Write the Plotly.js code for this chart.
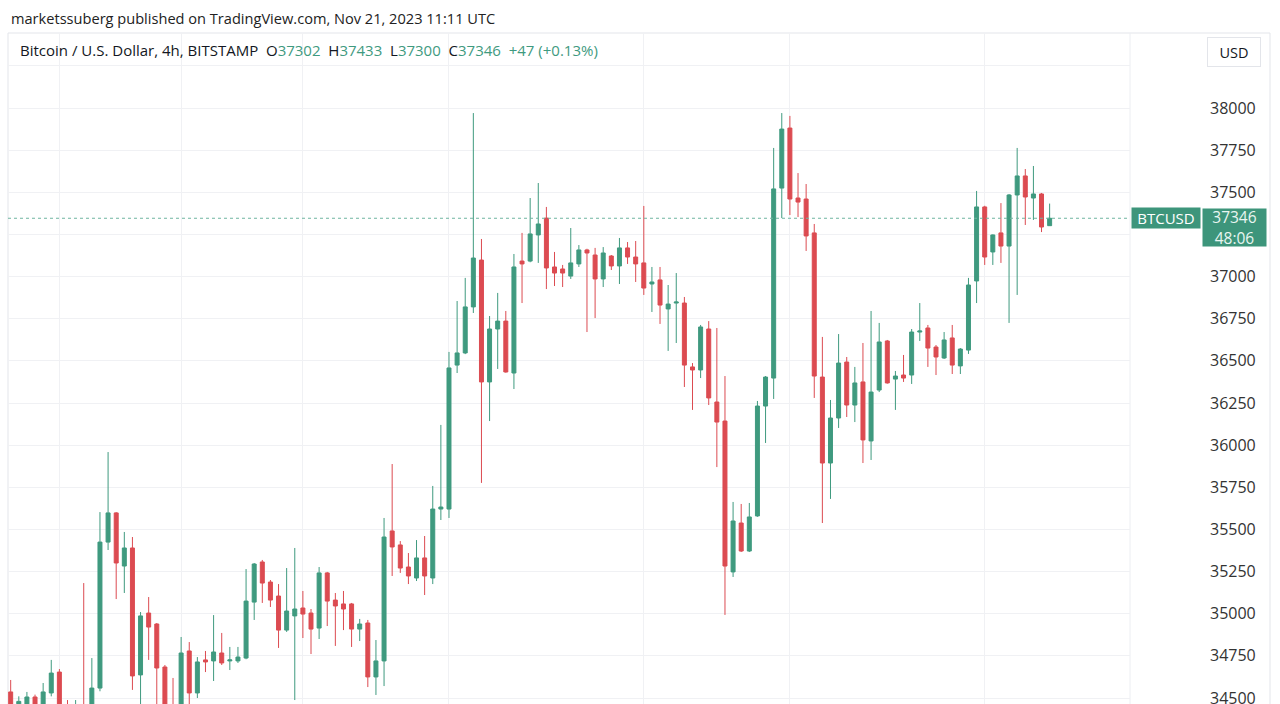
<!DOCTYPE html>
<html>
<head>
<meta charset="utf-8">
<script src="https://cdn.plot.ly/plotly-3.0.1.min.js"></script>
<style>
  html, body { margin: 0; padding: 0; background: #ffffff; }
  #chart { width: 1280px; height: 704px; }
</style>
</head>
<body>
<div id="chart"></div>
<script>
// BTC/USD 4h candles, BITSTAMP
const OPEN = [34536,34440,34455,34506,34451,34530,34654,34420,34350,34440,34400,34559,35425,35598,35283,35390,34637,35004,34939,34684,
  34420,34350,34779,34530,34726,34720,34767,34720,34720,34737,35069,35307,35188,35105,34903,34987,35034,35004,34915,35242,
  35081,35058,35058,34909,34945,34625,34720,35491,35408,35277,35212,35331,35212,35621,35621,36475,36547,36820,37098,36375,
  36689,36736,36428,37092,37092,37247,37347,37057,37045,37003,37075,37158,37128,36986,37122,37063,37170,37116,37081,36956,
  36980,36808,36843,36843,36464,36446,36689,36256,36143,35248,35538,35372,35580,36232,36398,37525,37881,37466,37460,37259,
  36404,35894,36161,36493,36238,36375,36025,36327,36618,36392,36416,36416,36671,36695,36582,36517,36636,36470,36564,36974,
  37413,37146,37259,37181,37484,37597,37466,37490,37302];
const HIGH = [34607,34510,34536,34520,34589,34726,34672,34488,34488,35182,34737,35603,35959,35603,35485,35455,35010,35099,34945,34696,
  34619,34862,34832,34743,34779,34992,34886,34803,34803,35265,35301,35319,35200,35176,35271,35390,35135,35028,35277,35248,
  35123,35135,35064,34969,34963,34844,35568,35888,35431,35360,35437,35461,35758,36120,36553,36855,36992,37970,37223,36766,
  36903,36796,37134,37259,37466,37555,37413,37146,37069,37288,37187,37165,37170,37175,37128,37229,37205,37211,37419,37057,
  37057,36950,37021,36879,36487,36713,36736,36695,36410,35663,35651,35657,36262,36410,37763,37970,37953,37614,37549,37312,
  36642,36268,36659,36523,36464,36606,36796,36725,36624,36440,36535,36689,36843,36713,36594,36671,36713,36576,36992,37508,
  37420,37250,37436,37490,37763,37638,37656,37496,37433];
const LOW = [34417,34400,34420,34430,34430,34510,34380,34300,34320,34350,34380,34540,35378,35087,35123,34548,34440,34726,34440,34380,
  34300,34320,34440,34500,34654,34601,34696,34666,34708,34730,34963,35064,35040,34797,34892,34488,34856,34761,34850,34927,
  34809,34903,34803,34838,34565,34518,34571,35224,35242,35176,35194,35111,35176,35556,35568,36428,36540,36784,35776,36143,
  36452,36430,36333,36843,37085,37081,36926,36944,36938,36986,37057,36671,36754,36938,37039,36956,37075,36968,36891,36790,
  36719,36559,36606,36345,36209,36398,36238,35870,34993,35218,35366,35366,35575,36013,36274,37347,37365,37353,37152,36280,
  35538,35681,36102,36167,36137,35894,35912,36315,36365,36209,36375,36363,36618,36464,36416,36511,36422,36422,36541,36843,
  37069,37069,37081,36725,36891,37306,37336,37264,37300];
const CLOSE = [34441,34480,34506,34460,34536,34648,34420,34350,34420,34400,34559,35425,35598,35301,35390,34631,34987,34921,34678,34420,
  34340,34767,34530,34714,34714,34773,34708,34726,34743,35075,35295,35182,35081,34903,35016,35028,34998,34909,35242,35075,
  35046,35028,34909,34939,34625,34720,35455,35396,35271,35224,35331,35224,35621,35633,36458,36547,36820,37110,36375,36689,
  36736,36434,37057,37075,37253,37312,37051,37021,37021,37081,37158,37140,36986,37140,37063,37170,37116,37075,36932,36968,
  36831,36837,36849,36475,36446,36701,36280,36137,35283,35550,35372,35574,36232,36404,37520,37875,37460,37442,37241,36410,
  35894,36161,36487,36238,36369,36031,36315,36612,36369,36410,36398,36671,36677,36576,36523,36624,36475,36570,36950,37413,
  37116,37247,37181,37484,37597,37472,37490,37294,37346];
const LAST_PRICE = 37346;
const PRICE_TICKS = [34500,34750,35000,35250,35500,35750,36000,36250,36500,36750,37000,37250,37500,37750,38000,38250];
const PRICE_LABELS = ['34500','34750','35000','35250','35500','35750','36000','36250','36500','36750','37000','','37500','37750','38000',''];
const TIME_GRID = [6,21,36,54,78,96,120];
const BAR_INDEX = OPEN.map((_, i) => i);

const UP = '#3f9a7f', DOWN = '#dc4b51', LABEL_BG = '#3d957b';
const FONT = '"Open Sans", Roboto, "Liberation Sans", Arial, sans-serif';

const trace = {
  type: 'candlestick',
  x: BAR_INDEX, open: OPEN, high: HIGH, low: LOW, close: CLOSE,
  increasing: { line: { color: UP, width: 1 }, fillcolor: UP },
  decreasing: { line: { color: DOWN, width: 1 }, fillcolor: DOWN },
  whiskerwidth: 0,
  hoverinfo: 'skip',
  showlegend: false
};

const PX = (px) => (px - 8) / 1122; // paper x from page pixel (plot spans 8..1130)
const PY = (py) => (704 - py) / 671; // paper y from page pixel (plot spans 33..704)

const layout = {
  width: 1280, height: 704,
  margin: { l: 8, r: 150, t: 33, b: 0, pad: 0 },
  paper_bgcolor: '#ffffff', plot_bgcolor: '#ffffff',
  font: { family: FONT, color: '#131722' },
  showlegend: false,
  boxgap: 0.3,
  xaxis: {
    range: [-0.33, 137.9], type: 'linear',
    rangeslider: { visible: false },
    showticklabels: false, ticks: '',
    tickmode: 'array', tickvals: TIME_GRID,
    showgrid: true, gridcolor: '#f0f1f4', gridwidth: 1,
    zeroline: false, showline: false, fixedrange: true
  },
  yaxis: {
    range: [34464.5, 38444.9], side: 'right',
    tickmode: 'array', tickvals: PRICE_TICKS, ticktext: PRICE_LABELS,
    showgrid: true, gridcolor: '#f0f1f4', gridwidth: 1,
    zeroline: false, showline: false, ticks: '',
    ticklabelstandoff: 79,
    ticklabeloverflow: 'allow',
    tickfont: { family: FONT, size: 16, color: '#333333' },
    fixedrange: true
  },
  shapes: [
    // chart frame
    { type: 'rect', xref: 'paper', yref: 'paper', x0: 0, x1: PX(1270), y0: -0.01, y1: 1,
      line: { color: '#e3e5ea', width: 1 }, fillcolor: 'rgba(0,0,0,0)', layer: 'below' },
    // price scale separator
    { type: 'line', xref: 'paper', yref: 'paper', x0: 1, x1: 1, y0: -0.01, y1: 1,
      line: { color: '#eceef2', width: 1 }, layer: 'below' },
    // last price dotted line
    { type: 'line', xref: 'paper', yref: 'y', x0: 0, x1: 1, y0: LAST_PRICE, y1: LAST_PRICE,
      line: { color: '#6fb5a0', width: 1, dash: 'dot' }, layer: 'above' }
  ],
  annotations: [
    { xref: 'paper', yref: 'paper', x: PX(9), y: PY(18), xanchor: 'left', yanchor: 'middle',
      showarrow: false, text: 'marketssuberg published on TradingView.com, Nov 21, 2023 11:11 UTC',
      font: { family: FONT, size: 14.6, color: '#222222' } },
    { xref: 'paper', yref: 'paper', x: PX(18), y: PY(50), xanchor: 'left', yanchor: 'middle',
      showarrow: false,
      text: 'Bitcoin / U.S. Dollar, 4h, BITSTAMP  O<span style="color:' + UP + '">37302</span>  H<span style="color:' + UP + '">37433</span>  L<span style="color:' + UP + '">37300</span>  C<span style="color:' + UP + '">37346</span>  <span style="color:' + UP + '">+47 (+0.13%)</span>',
      font: { family: FONT, size: 15, color: '#131722' } },
    { xref: 'paper', yref: 'paper', x: PX(1234), y: PY(52), xanchor: 'center', yanchor: 'middle',
      showarrow: false, text: 'USD', width: 48, height: 24, borderpad: 2,
      bordercolor: '#e3e5ea', borderwidth: 1, bgcolor: '#ffffff',
      font: { family: FONT, size: 14.5, color: '#131722' } },
    { xref: 'paper', yref: 'y', x: PX(1131), y: LAST_PRICE, xanchor: 'left', yanchor: 'middle',
      showarrow: false, text: 'BTCUSD', width: 66, height: 18, borderpad: 1,
      bgcolor: LABEL_BG, font: { family: FONT, size: 15, color: '#ffffff' } },
    { xref: 'paper', yref: 'y', x: PX(1202), y: LAST_PRICE, xanchor: 'left', yanchor: 'top',
      yshift: 10, showarrow: false, text: '37346<br>48:06', width: 61, height: 35, borderpad: 1,
      bgcolor: LABEL_BG, font: { family: FONT, size: 15.5, color: '#e9f5f1' } }
  ]
};

Plotly.newPlot('chart', [trace], layout, { displayModeBar: false, staticPlot: true });
</script>
</body>
</html>
